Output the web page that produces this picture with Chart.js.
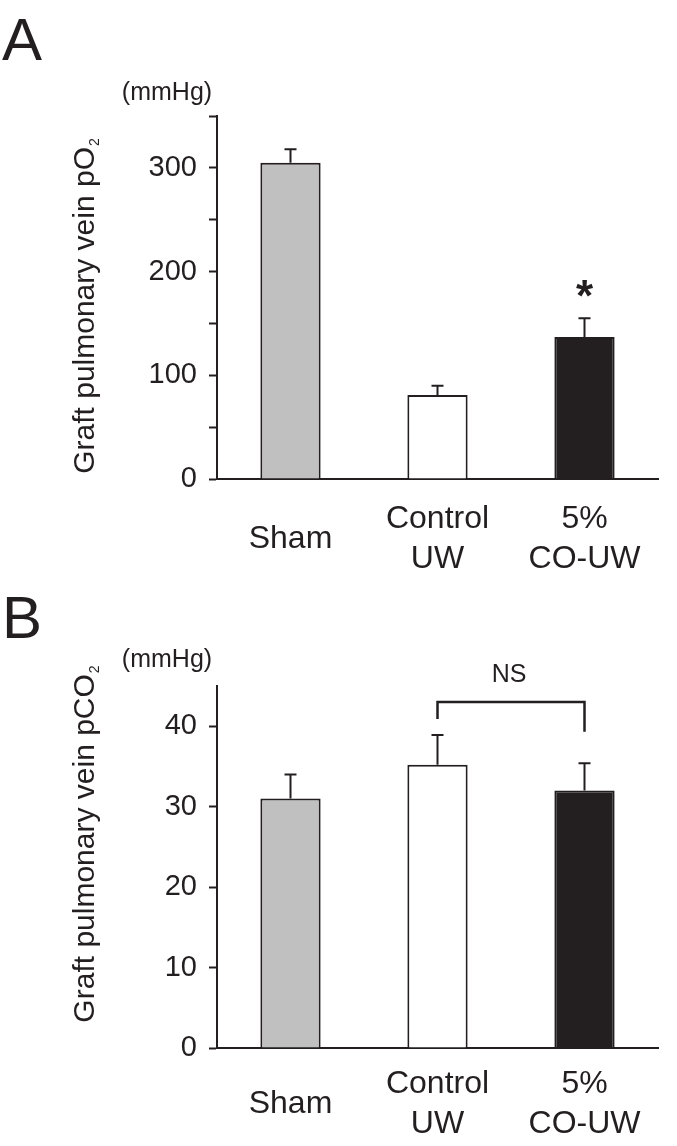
<!DOCTYPE html>
<html>
<head>
<meta charset="utf-8">
<script src="https://cdn.jsdelivr.net/npm/chart.js@4"></script>
<style>
  html, body { margin: 0; padding: 0; background: #fff; }
  #wrap { position: relative; width: 677px; height: 1146px; }
  canvas { position: absolute; left: 0; }
</style>
</head>
<body>
<div id="wrap">
  <canvas id="chartA" width="677" height="580" style="top:0px"></canvas>
  <canvas id="chartB" width="677" height="566" style="top:580px"></canvas>
</div>
<script>
// -------- DATA ---------------
const groups = ['Sham', ['Control', 'UW'], ['5%', 'CO-UW']];

const po2Mean = [305, 81, 137];
const po2Err = [13, 9, 18];
const po2TickLabels = [0, 100, 200, 300];
const po2Stars = ['', '', '*'];

const pco2Mean = [31, 35.2, 32];
const pco2Err = [3, 3.7, 3.4];
const pco2TickLabels = [0, 10, 20, 30, 40];
const nsPair = [1, 2];              // Control UW vs 5% CO-UW
const nsLevels = [43, 40.9, 39.3];  // bracket top, left leg end, right leg end

// -------- STYLE ---------------
const ink = '#231f20';
const fills = ['#c0c0c0', '#ffffff', '#231f20'];
const fontFam = '"Liberation Sans", Arial, Helvetica, sans-serif';
Chart.defaults.font.family = fontFam;
Chart.defaults.color = ink;

// -------- EXTRA DRAWING: error bars, stars, bracket, labels ---------------
const decor = {
    id: 'decor',
    afterDatasetsDraw(chart, args, opts) {
        const ctx = chart.ctx;
        const xs = chart.scales.x, ys = chart.scales.y;
        const vals = chart.data.datasets[0].data;
        ctx.save();
        ctx.strokeStyle = ink;
        ctx.fillStyle = ink;
        ctx.lineWidth = 2;
        vals.forEach((v, i) => {
            const cx = xs.getPixelForValue(i);
            const y0 = ys.getPixelForValue(v);
            const y1 = ys.getPixelForValue(v + opts.err[i]);
            ctx.beginPath();
            ctx.moveTo(cx, y0); ctx.lineTo(cx, y1);
            ctx.moveTo(cx - 6, y1); ctx.lineTo(cx + 6, y1);
            ctx.stroke();
            if (opts.stars && opts.stars[i]) {
                ctx.font = 'bold 44px ' + fontFam;
                ctx.textAlign = 'center';
                ctx.textBaseline = 'alphabetic';
                ctx.fillText(opts.stars[i], cx, y1 - 7);
            }
        });
        if (opts.pair) {
            const xl = xs.getPixelForValue(opts.pair[0]);
            const xr = xs.getPixelForValue(opts.pair[1]);
            const yt = ys.getPixelForValue(opts.levels[0]);
            ctx.lineWidth = 2.5;
            ctx.beginPath();
            ctx.moveTo(xl, ys.getPixelForValue(opts.levels[1]));
            ctx.lineTo(xl, yt);
            ctx.lineTo(xr, yt);
            ctx.lineTo(xr, ys.getPixelForValue(opts.levels[2]));
            ctx.stroke();
            ctx.font = '25px ' + fontFam;
            ctx.textAlign = 'center';
            ctx.textBaseline = 'middle';
            ctx.fillText('NS', (xl + xr) / 2 - 2, yt - 27);
        }
        ctx.restore();
    },
    afterDraw(chart, args, opts) {
        const ctx = chart.ctx;
        ctx.save();
        ctx.fillStyle = ink;
        // panel letter
        ctx.font = '60px ' + fontFam;
        ctx.textAlign = 'left';
        ctx.textBaseline = 'alphabetic';
        ctx.fillText(opts.letter, 2, opts.letterY);
        // unit
        ctx.font = '25px ' + fontFam;
        ctx.textAlign = 'center';
        ctx.textBaseline = 'middle';
        ctx.fillText('(mmHg)', 167, opts.unitY);
        // rotated axis title with subscript
        ctx.translate(94, opts.titleY);
        ctx.rotate(-Math.PI / 2);
        ctx.font = '30px ' + fontFam;
        const wMain = ctx.measureText(opts.title).width;
        ctx.font = '14px ' + fontFam;
        const wSub = ctx.measureText('2').width;
        const start = -(wMain + wSub + 1) / 2;
        ctx.textAlign = 'left';
        ctx.textBaseline = 'alphabetic';
        ctx.font = '30px ' + fontFam;
        ctx.fillText(opts.title, start, 0);
        ctx.font = '14px ' + fontFam;
        ctx.fillText('2', start + wMain + 1, 5);
        ctx.restore();
    }
};

function makeChart(id, values, o) {
    return new Chart(document.getElementById(id), {
        type: 'bar',
        data: {
            labels: groups,
            datasets: [{
                data: values,
                backgroundColor: fills,
                borderColor: ink,
                borderWidth: 2,
                barPercentage: 0.41,
                categoryPercentage: 1
            }]
        },
        options: {
            responsive: false,
            animation: false,
            devicePixelRatio: 1,
            layout: { padding: { top: o.padTop, bottom: o.padBottom, left: 0, right: 19 } },
            plugins: {
                legend: { display: false },
                tooltip: { enabled: false },
                decor: o.decor
            },
            scales: {
                x: {
                    grid: { display: false },
                    border: { color: ink, width: 2 },
                    ticks: {
                        color: ink,
                        font: { size: 32, lineHeight: 1.25 },
                        padding: o.labelPad,
                        crossAlign: 'center',
                        maxRotation: 0,
                        autoSkip: false
                    },
                    afterFit: s => { s.height = 90; }
                },
                y: {
                    min: 0,
                    max: o.max,
                    ticks: {
                        stepSize: o.step,
                        includeBounds: false,
                        padding: 12,
                        color: ink,
                        font: { size: 29 },
                        callback: v => o.tickLabels.includes(v) ? v : ''
                    },
                    grid: {
                        drawOnChartArea: false,
                        drawTicks: true,
                        tickLength: 8,
                        tickWidth: 2,
                        tickColor: ink
                    },
                    border: { color: ink, width: 2 },
                    afterFit: s => { s.width = 217; }
                }
            }
        },
        plugins: [decor]
    });
}

// -------- PANEL A : pO2 ---------------
makeChart('chartA', po2Mean, {
    max: 350, step: 50, tickLabels: po2TickLabels,
    padTop: 116, padBottom: 11, labelPad: 32,
    decor: {
        err: po2Err, stars: po2Stars,
        letter: 'A', letterY: 60, unitY: 93,
        title: 'Graft pulmonary vein pO', titleY: 306
    }
});

// -------- PANEL B : pCO2 ---------------
makeChart('chartB', pco2Mean, {
    max: 45, step: 10, tickLabels: pco2TickLabels,
    padTop: 106, padBottom: 8, labelPad: 28,
    decor: {
        err: pco2Err, pair: nsPair, levels: nsLevels,
        letter: 'B', letterY: 58, unitY: 80,
        title: 'Graft pulmonary vein pCO', titleY: 264
    }
});
</script>
</body>
</html>
